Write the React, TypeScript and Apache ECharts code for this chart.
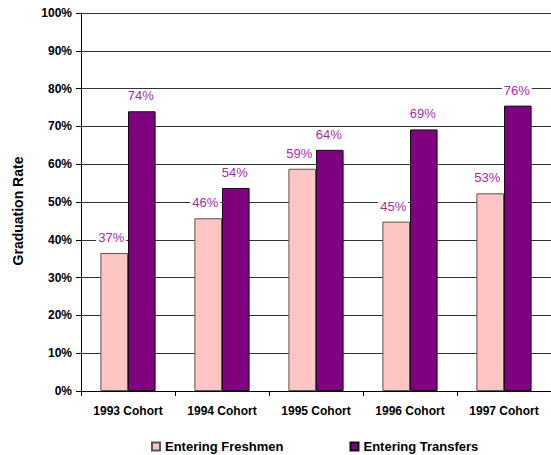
import React, { useEffect, useRef } from "react";
import * as echarts from "echarts";

const categories = ["1993 Cohort", "1994 Cohort", "1995 Cohort", "1996 Cohort", "1997 Cohort"];
const freshmen = [36.5, 45.7, 58.8, 44.8, 52.3];
const transfers = [74.0, 53.7, 63.8, 69.2, 75.5];
const freshmenLabels = ["37%", "46%", "59%", "45%", "53%"];
const transfersLabels = ["74%", "54%", "64%", "69%", "76%"];
const seriesNames = ["Entering Freshmen", "Entering Transfers"];
const yTicks = [0, 10, 20, 30, 40, 50, 60, 70, 80, 90, 100];

const FONT = "'Liberation Sans', Arial, sans-serif";

export default function App() {
  const ref = useRef<HTMLDivElement>(null);
  useEffect(() => {
    if (!ref.current) return;
    const chart = echarts.init(ref.current, null, { renderer: "svg" });
    const labelStyle = (labels: string[], dx: number) => ({
      show: true,
      position: "top",
      distance: 9,
      offset: [dx, 0],
      color: "#B01FB0",
      fontFamily: FONT,
      fontSize: 13,
      backgroundColor: "#ffffff",
      padding: [0, 2, 0, 2],
      formatter: (p: any) => labels[p.dataIndex],
    });
    chart.setOption({
      animation: false,
      backgroundColor: "#ffffff",
      textStyle: { fontFamily: FONT },
      grid: { left: 81, top: 13, width: 477, height: 378, containLabel: false },
      legend: {
        data: seriesNames,
        top: 435,
        left: 146,
        itemWidth: 8,
        itemHeight: 8,
        itemGap: 66,
        icon: "rect",
        textStyle: { fontFamily: FONT, fontSize: 13, fontWeight: "bold", color: "#000" },
      },
      graphic: [
        {
          type: "text",
          x: 18,
          y: 211,
          rotation: Math.PI / 2,
          style: {
            text: "Graduation Rate",
            fontFamily: FONT,
            fontSize: 14,
            fontWeight: "bold",
            fill: "#000",
            align: "center",
            verticalAlign: "middle",
          },
        },
      ],
      xAxis: {
        type: "category",
        data: categories,
        axisLine: { lineStyle: { color: "#000", width: 1 } },
        axisTick: { show: true, length: 5, lineStyle: { color: "#000" } },
        axisLabel: { color: "#000", fontFamily: FONT, fontSize: 12, fontWeight: "bold", margin: 14 },
      },
      yAxis: {
        type: "value",
        min: 0,
        max: 100,
        interval: 10,
        axisLine: { show: true, lineStyle: { color: "#000", width: 1 } },
        axisTick: { show: true, length: 5, lineStyle: { color: "#000" } },
        axisLabel: {
          color: "#000",
          fontFamily: FONT,
          fontSize: 12,
          fontWeight: "bold",
          margin: 9,
          formatter: (v: number) => (yTicks.includes(v) ? v + "%" : ""),
        },
        splitLine: { show: true, lineStyle: { color: "#333", width: 1 } },
      },
      series: [
        {
          name: seriesNames[0],
          type: "bar",
          data: freshmen,
          barWidth: 27.6,
          barGap: "0%",
          itemStyle: { color: "#FFC4C4", borderColor: "#555", borderWidth: 1 },
          label: labelStyle(freshmenLabels, -3),
        },
        {
          name: seriesNames[1],
          type: "bar",
          data: transfers,
          barWidth: 27.6,
          barGap: "0%",
          itemStyle: { color: "#800080", borderColor: "#111", borderWidth: 1 },
          label: labelStyle(transfersLabels, -1),
        },
      ],
    });
    return () => chart.dispose();
  }, []);
  return (
    <div
      ref={ref}
      style={{ position: "fixed", left: 0, top: 0, width: 551, height: 455, background: "#fff" }}
    />
  );
}
